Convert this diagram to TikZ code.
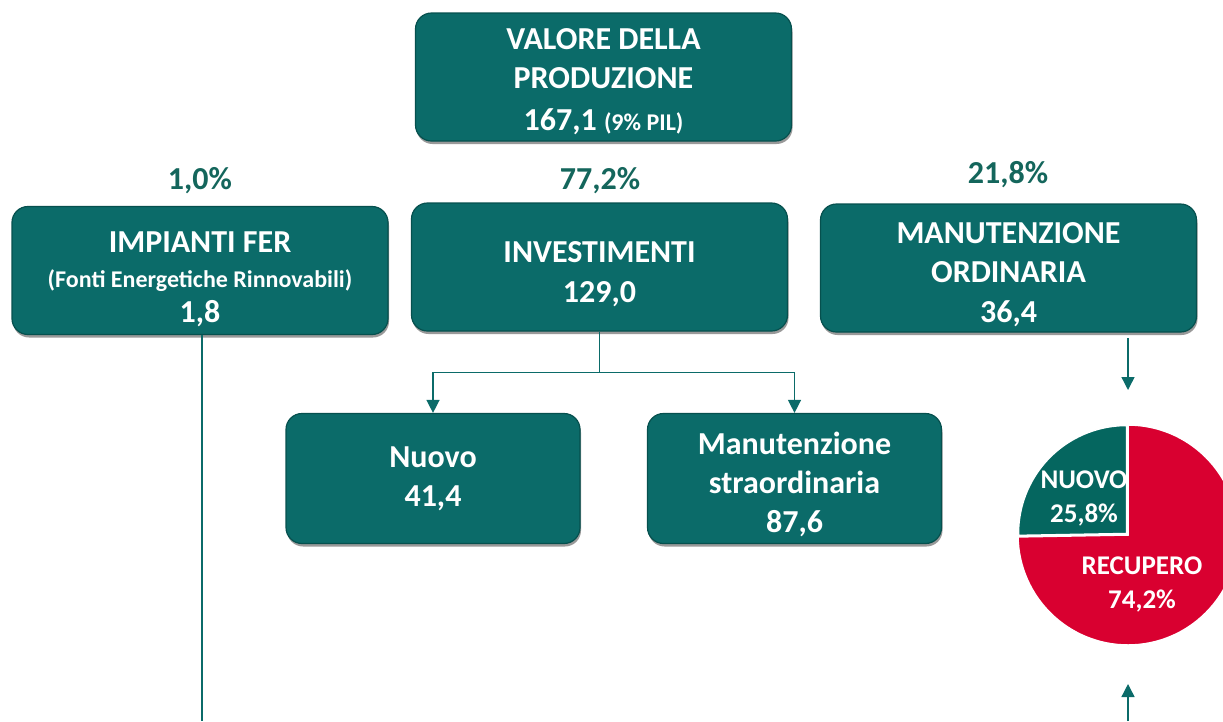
\documentclass[tikz,border=0pt]{standalone}
\usepackage{fontspec}
\setmainfont{Carlito}
\usetikzlibrary{arrows.meta,shadows,calc}
\definecolor{boxteal}{HTML}{0B6B69}
\definecolor{boxedge}{HTML}{06504E}
\definecolor{labteal}{HTML}{14665C}
\definecolor{pieteal}{HTML}{05665F}
\definecolor{piered}{HTML}{D90030}
\tikzset{
  box/.style={rectangle, rounded corners=16pt, fill=boxteal, draw=boxedge, line width=1.2pt,
    minimum width=376pt, minimum height=128pt, inner sep=0pt,
    drop shadow={shadow xshift=1pt, shadow yshift=-3pt, fill=black, opacity=0.4}},
  smallbox/.style={box, minimum width=294pt, minimum height=130pt},
  btext/.style={text=white, font=\bfseries\fontsize{32}{39}\selectfont, align=center, inner sep=0pt},
  pct/.style={text=labteal, font=\bfseries\fontsize{32}{36}\selectfont},
  conn/.style={draw=boxteal, line width=1.4pt},
  arr/.style={conn, -{Triangle[width=13pt,length=13pt]}},
  pietext/.style={text=white, font=\bfseries\fontsize{27}{34}\selectfont, align=center}
}
\newcommand{\smalltxt}{\fontsize{24}{28}\selectfont}
\begin{document}
\begin{tikzpicture}[x=1pt,y=-1pt]
\useasboundingbox (0,0) rectangle (1223,721);
\clip (0,0) rectangle (1223,721);
% boxes
\node[box] (vp) at (603.5,77) {};
\node[box] (fer) at (200,270.5) {};
\node[box] (inv) at (599.5,267) {};
\node[box] (mo) at (1008.5,268) {};
\node[smallbox] (nuovo) at (433,478.5) {};
\node[smallbox] (str) at (794.5,478.5) {};
% box texts
\node[btext] (vpt) at ($(vp)+(0,5)$) {VALORE DELLA\\PRODUZIONE\\[3pt]167,1 {\smalltxt(9\% PIL)}};
\node[btext] (fert) at ($(fer)+(0,9)$) {IMPIANTI FER\\[-4pt]{\smalltxt(Fonti Energetiche Rinnovabili)}\\[-4pt]1,8};
\node[btext] (invt) at ($(inv)+(0,7)$) {INVESTIMENTI\\[1pt]129,0};
\node[btext] (mot) at ($(mo)+(0,7)$) {MANUTENZIONE\\ORDINARIA\\[1pt]36,4};
\node[btext] (nuovot) at (nuovo) {Nuovo\\41,4};
\node[btext] (strt) at ($(str)+(0,6)$) {Manutenzione\\straordinaria\\87,6};
% percentages
\node[pct] (p1) at (200,181) {1,0\%};
\node[pct] (p2) at (600,181) {77,2\%};
\node[pct] (p3) at (1008,175) {21,8\%};
% connectors
\coordinate (j) at ($(inv.south)+(0,41)$);
\draw[conn] (inv.south) -- (j);
\draw[arr] (j) -| (nuovo.north);
\draw[arr] (j) -| (str.north);
\coordinate (ferend) at (202,721);
\draw[conn] (fer.south -| ferend) -- (ferend);
% pie arrows
\coordinate (mtop) at (1128,338);
\coordinate (mtip) at (1128,390);
\coordinate (btm) at (1128,721);
\coordinate (btip) at (1128,684);
\draw[arr] (mtop) -- (mtip);
\draw[arr] (btm) -- (btip);
% pie
\begin{scope}[shift={(1128,535)}, yscale=-1]
\fill[piered, draw=white, line width=1.5pt] (0,0) -- (90:110) arc[start angle=90, end angle=-179, radius=110] -- cycle;
\fill[pieteal, draw=white, line width=1.5pt] (-1.5,1.5) -- +(90:108) arc[start angle=90, end angle=181, radius=108] -- cycle;
\end{scope}
\node[pietext] (pn) at (1084,498) {NUOVO\\25,8\%};
\node[pietext] (pr) at (1142,584) {RECUPERO\\74,2\%};
\end{tikzpicture}
\end{document}
